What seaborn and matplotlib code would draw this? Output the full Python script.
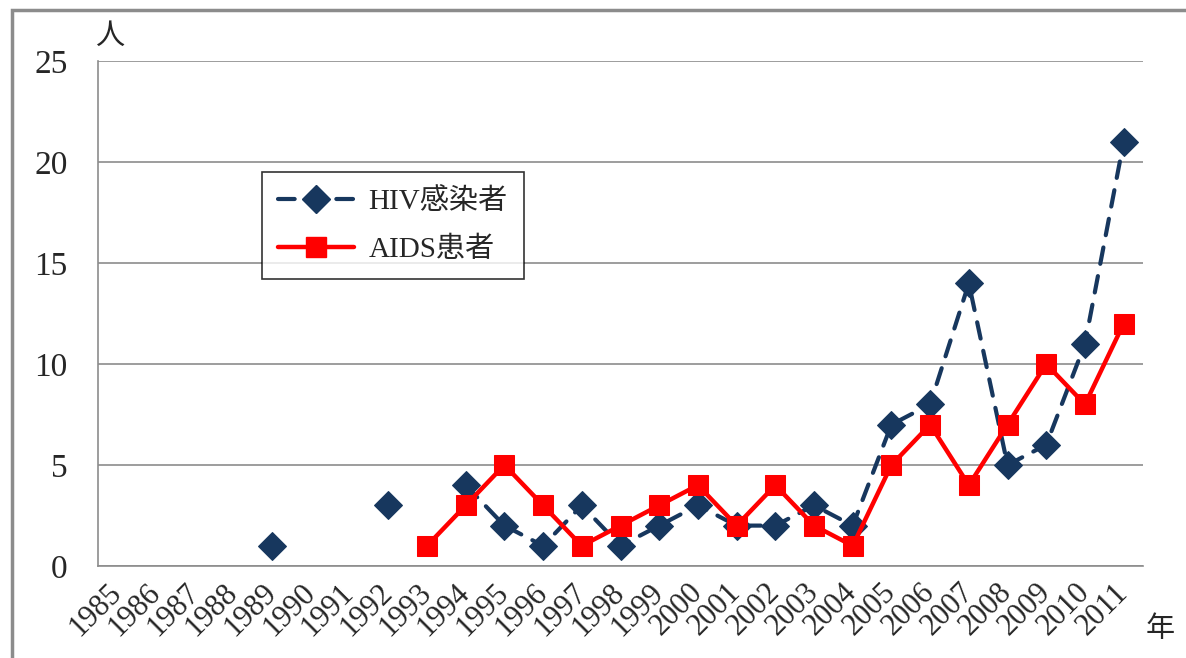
import seaborn as sns
import matplotlib.pyplot as plt
import matplotlib.patches as mpatches
import numpy as np
import pandas as pd

years = [str(y) for y in range(1985, 2012)]
hiv = [np.nan, np.nan, np.nan, np.nan, 1, np.nan, np.nan, 3, np.nan, 4,
       2, 1, 3, 1, 2, 3, 2, 2, 3, 2, 7, 8, 14, 5, 6, 11, 21]
aids = [np.nan, np.nan, np.nan, np.nan, np.nan, np.nan, np.nan, np.nan, 1, 3,
        5, 3, 1, 2, 3, 4, 2, 4, 2, 1, 5, 7, 4, 7, 10, 8, 12]
y_ticks = [0, 5, 10, 15, 20, 25]

hiv_color = '#17375E'
aids_color = '#FF0000'
hiv_dash = (0, (4, 3))


def segments(values):
    # split a series at missing values so the line shows gaps
    rows, seg = [], 0
    for i, v in enumerate(values):
        if np.isnan(v):
            seg += 1
            continue
        rows.append({'pos': i, 'val': v, 'seg': seg})
    return pd.DataFrame(rows)


hiv_df = segments(hiv)
aids_df = segments(aids)

sns.set_style('white')
plt.rcParams['font.family'] = ['Liberation Serif', 'Noto Sans CJK JP']

fig = plt.figure(figsize=(11.86, 6.58), dpi=100)
ax = fig.add_axes([98 / 1186, 1 - 566 / 658, (1143 - 98) / 1186, (566 - 61) / 658])

sns.lineplot(data=hiv_df, x='pos', y='val', units='seg', estimator=None, ax=ax,
             color=hiv_color, lw=3, marker='D', markersize=14, mec=hiv_color,
             dashes=False, linestyle=hiv_dash, dash_capstyle='round', zorder=3)
sns.lineplot(data=aids_df, x='pos', y='val', units='seg', estimator=None, ax=ax,
             color=aids_color, lw=3.2, marker='s', markersize=14.5, mec=aids_color,
             zorder=4)

ax.set_xlim(-0.5, len(years) - 0.5)
ax.set_ylim(0, 25)
ax.set_yticks(y_ticks)
ax.set_yticklabels([str(t) for t in y_ticks], fontsize=24)
ax.set_xticks(range(len(years)))
ax.set_xticklabels(years, fontsize=22, rotation=45, ha='right',
                   rotation_mode='anchor', va='center')
ax.set_xticks(np.arange(-0.5, len(years)), minor=True)
ax.tick_params(axis='x', which='major', length=0, pad=16)
ax.tick_params(axis='x', which='minor', length=8, width=1.2, color='#8c8c8c')
ax.tick_params(axis='y', length=8, width=1.2, color='#8c8c8c', pad=14)
ax.set_xlabel('')
ax.set_ylabel('')
ax.yaxis.grid(True, color='#8c8c8c', lw=1.2)
ax.set_axisbelow(True)
for side in ['top', 'right']:
    ax.spines[side].set_visible(False)
for side in ['left', 'bottom']:
    ax.spines[side].set_color('#8c8c8c')
    ax.spines[side].set_linewidth(1.2)

handles = [
    plt.Line2D([], [], color=hiv_color, lw=3, linestyle=hiv_dash,
               dash_capstyle='round', marker='D', markersize=14),
    plt.Line2D([], [], color=aids_color, lw=3.2, marker='s', markersize=14.5),
]
leg = ax.legend(handles, ['HIV感染者', 'AIDS患者'], loc='upper left',
                bbox_to_anchor=(0.157, 0.78), borderaxespad=0, fontsize=21,
                frameon=True, fancybox=False, edgecolor='black',
                handlelength=2.6, borderpad=0.55, labelspacing=0.75,
                handletextpad=0.5)
leg.get_frame().set_linewidth(1.2)

fig.text(110 / 1186, 1 - 37 / 658, '人', fontsize=21, ha='center', va='center')
fig.text(1160 / 1186, 1 - 630 / 658, '年', fontsize=21, ha='center', va='center')

fig.patches.append(mpatches.Rectangle((12 / 1186, -0.1), 1.2, 1.1 - 10 / 658,
                                      transform=fig.transFigure, fill=False,
                                      edgecolor='#8c8c8c', lw=2.5))

fig.savefig('out.png', dpi=100)
